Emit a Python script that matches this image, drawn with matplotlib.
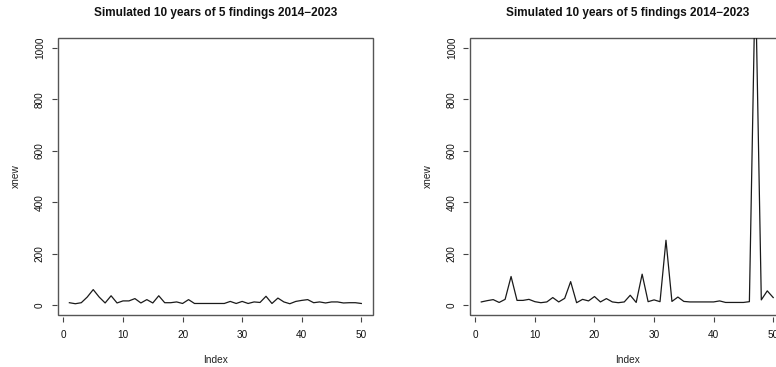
import matplotlib
matplotlib.use("Agg")
import matplotlib.pyplot as plt
from matplotlib.patches import Rectangle

plt.rcParams['font.family'] = ['Liberation Sans', 'DejaVu Sans']

# Simulated yearly findings, 50 draws per panel
index = list(range(1, 51))
xnew_left = [9, 5, 9, 31, 60, 31, 8, 36, 8, 16,
             16, 25, 8, 21, 8, 36, 9, 9, 12, 6,
             21, 6, 6, 6, 6, 6, 6, 14, 6, 14,
             6, 12, 10, 34, 6, 27, 12, 5, 14, 18,
             21, 9, 12, 8, 12, 12, 8, 9, 9, 6]
xnew_right = [12, 17, 21, 10, 22, 111, 18, 18, 22, 13,
              9, 12, 29, 12, 26, 91, 9, 22, 16, 33,
              12, 25, 12, 9, 12, 38, 10, 120, 13, 20,
              13, 252, 14, 31, 14, 12, 12, 12, 12, 12,
              16, 10, 10, 10, 10, 13, 1290, 20, 55, 29]

title = "Simulated 10 years of 5 findings 2014\u22122023"
x_ticks = [0, 10, 20, 30, 40, 50]
y_ticks = [0, 200, 400, 600, 800, 1000]

W, H = 776, 367
fig = plt.figure(figsize=(W / 100, H / 100), dpi=100)


def panel(left_px, values):
    ax = fig.add_axes([left_px / W, (H - 315.3) / H, 315.3 / W, 277.6 / H])
    ax.plot(index, values, color='#1a1a1a', lw=0.9)
    ax.set_xlim(-0.96, 51.96)
    ax.set_ylim(-40, 1040)
    for s in ax.spines.values():
        s.set_visible(False)
    ax.spines['bottom'].set_position(('outward', 1.4))
    ax.spines['left'].set_position(('outward', 0.8))
    ax.add_patch(Rectangle((0, 0), 1, 1, transform=ax.transAxes, fill=False,
                           edgecolor='#555555', lw=1.0, clip_on=False))
    ax.set_xticks(x_ticks)
    ax.set_yticks(y_ticks)
    ax.tick_params(axis='both', direction='out', length=3.8, width=0.8,
                   color='#444444', labelsize=7.2, labelcolor='#111111')
    ax.tick_params(axis='x', pad=5.4)
    ax.tick_params(axis='y', pad=4.6)
    for lab in ax.get_yticklabels():
        lab.set_rotation(90)
        lab.set_va('center')
    ax.set_xlabel("Index", fontsize=7.3, color='#222222', labelpad=11)
    ax.set_ylabel("xnew", fontsize=7.3, color='#222222', labelpad=10)
    ax.text(0.5, 1.0 + 21.5 / 277.6, title, transform=ax.transAxes,
            ha='center', va='baseline', fontsize=8.5, fontweight='bold',
            color='#111111')
    return ax


ax1 = panel(57.7, xnew_left)
ax2 = panel(469.6, xnew_right)

fig.savefig("out.png", dpi=100)
